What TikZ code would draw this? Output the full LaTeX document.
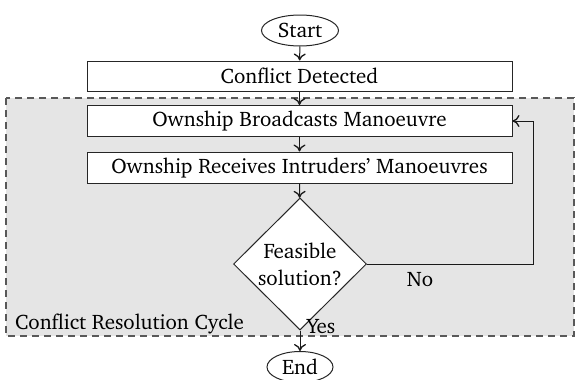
\documentclass[tikz,border=0pt]{standalone}
\usepackage[T1]{fontenc}
\usepackage{charter}
\usetikzlibrary{shapes.geometric,arrows.meta}

\tikzset{
  flowbox/.style={draw=black!85, fill=white, line width=1pt, minimum width=425pt, minimum height=31pt, inner sep=0pt},
  terminal/.style={draw=black!85, fill=white, ellipse, line width=1pt, inner sep=0pt},
  decision/.style={draw=black!85, fill=white, diamond, line width=1pt, minimum width=133pt, minimum height=132pt, inner sep=0pt, align=center},
  flow/.style={-{Computer Modern Rightarrow[length=7pt,width=12pt,line width=1.3pt]}, line width=1pt, draw=black!90},
  cyclearea/.style={draw=black!65, fill=black!10, dash pattern=on 7pt off 5pt, line width=1.2pt},
  lbl/.style={inner sep=0pt}
}

\begin{document}
\begin{tikzpicture}[x=1pt, y=-1pt, font=\fontsize{21}{27}\selectfont]
  \useasboundingbox (0,0) rectangle (579,380);

  % shaded region for the resolution cycle
  \draw[cyclearea] (6,98) rectangle (574,336);
  \node[lbl, anchor=base west] (cyclelbl) at (15,329) {Conflict Resolution Cycle};

  % flow chart nodes
  \node[terminal, minimum width=77pt, minimum height=31pt] (start) at (300,30.5) {Start};
  \node[flowbox, minimum height=30pt] (detect) at (299.5,76) {Conflict Detected};
  \node[flowbox] (bcast) at (299.5,121) {Ownship Broadcasts Manoeuvre};
  \node[flowbox] (recv) at (299.5,167.5) {Ownship Receives Intruders' Manoeuvres};
  \node[decision] (feas) at (300,264) {Feasible\\solution?};
  \node[terminal, minimum width=66pt, minimum height=31pt] (stop) at (300,367) {End};

  % connectors
  \draw[flow] (start) -- (detect);
  \draw[flow] (detect) -- (bcast);
  \draw[flow] (bcast) -- (recv);
  \draw[flow] (recv) -- (feas);
  \draw[flow] (feas) -- (stop);
  \coordinate (loop) at (533,264);
  \draw[flow] (feas.east) -- (loop) |- (bcast.east);

  % branch labels
  \node[lbl] (nolbl) at (420,279) {No};
  \node[lbl] (yeslbl) at (321,326) {Yes};
\end{tikzpicture}
\end{document}
